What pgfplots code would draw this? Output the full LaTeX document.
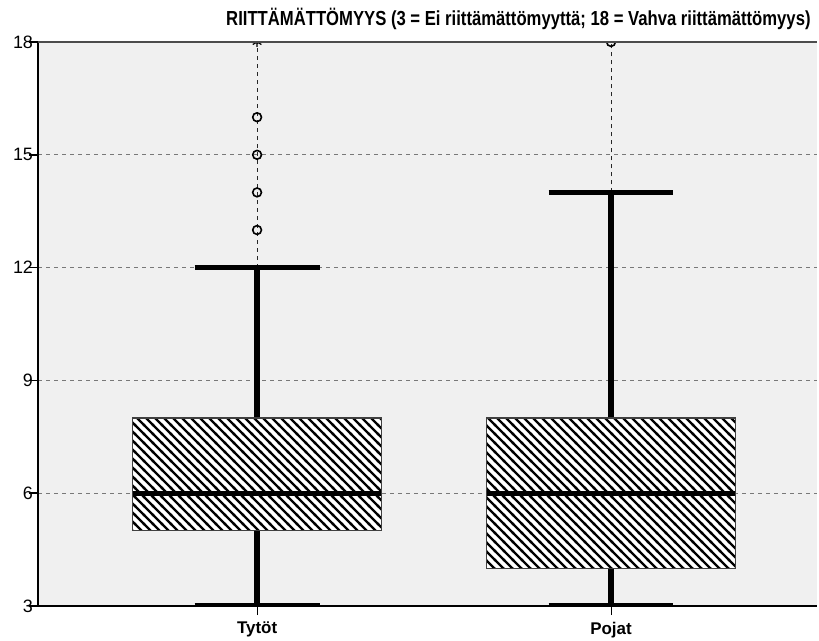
\documentclass[border=0pt]{standalone}
\usepackage{pgfplots}
\pgfplotsset{compat=1.18}
\usepackage{graphicx}
\usetikzlibrary{patterns,calc}
\usepackage{fontspec}
\setmainfont{Liberation Sans}
\definecolor{bgc}{RGB}{240,240,240}
\definecolor{gridc}{RGB}{120,120,120}
\pgfdeclarepatternformonly{hatchnw}{\pgfqpoint{-1bp}{-1bp}}{\pgfqpoint{5.5bp}{5.5bp}}{\pgfqpoint{4.5bp}{4.5bp}}{%
  \pgfsetlinewidth{1.2bp}%
  \pgfpathmoveto{\pgfqpoint{-0.5bp}{5bp}}%
  \pgfpathlineto{\pgfqpoint{5bp}{-0.5bp}}%
  \pgfusepath{stroke}}
\begin{document}
\begin{tikzpicture}
\begin{axis}[
  scale only axis,
  width=389.5bp, height=282bp,
  xmin=0.381, xmax=2.582,
  ymin=3, ymax=18,
  ytick={3,6,9,12,15,18},
  xtick={1,2},
  xticklabels={Tytöt,Pojat},
  xtick pos=bottom, ytick pos=left,
  axis background/.style={fill=bgc},
  axis line style={draw=none},
  tick align=outside,
  major tick length=4.5bp,
  xtick style={black, line width=0.5bp},
  ytick style={black, line width=0.9bp},
  ymajorgrids,
  grid style={gridc, line width=0.6bp, dash pattern=on 2bp off 2bp},
  /pgf/number format/assume math mode=true,
  yticklabel style={font=\fontsize{9}{10}\selectfont, xshift=5.5bp},
  xticklabel style={font=\fontsize{8.5}{9}\selectfont\bfseries},
  clip marker paths=true,
  box/.style={draw=black!75, line width=0.6bp, fill=white, postaction={pattern=hatchnw}},
  thick/.style={black, line width=2.6bp},
]
% dashed lines from upper whisker to top
\addplot[black!85, line width=0.5bp, dash pattern=on 2bp off 2bp] coordinates {(1,12) (1,18)};
\addplot[black!85, line width=0.5bp, dash pattern=on 2bp off 2bp] coordinates {(2,14) (2,18)};
% whiskers
\addplot[thick] coordinates {(1,3) (1,5)};
\addplot[thick] coordinates {(1,8) (1,12)};
\addplot[thick] coordinates {(0.8235,3) (1.1765,3)};
\addplot[thick] coordinates {(0.8235,12) (1.1765,12)};
\addplot[thick] coordinates {(2,3) (2,4)};
\addplot[thick] coordinates {(2,8) (2,14)};
\addplot[thick] coordinates {(1.8235,3) (2.1765,3)};
\addplot[thick] coordinates {(1.8235,14) (2.1765,14)};
% boxes (Q1, Q3)
\addplot[box] coordinates {(0.6485,5) (1.3515,5) (1.3515,8) (0.6485,8)} -- cycle;
\addplot[box] coordinates {(1.6485,4) (2.3515,4) (2.3515,8) (1.6485,8)} -- cycle;
% medians
\addplot[thick] coordinates {(0.6485,6) (1.3515,6)};
\addplot[thick] coordinates {(1.6485,6) (2.3515,6)};
% outliers
\addplot[only marks, mark=o, mark size=2.2bp, mark options={black, line width=0.8bp}] coordinates {(1,13) (1,14) (1,15) (1,16) (2,18)};
% extreme
\addplot[only marks, mark=asterisk, mark size=2.5bp, mark options={black, line width=0.6bp}] coordinates {(1,18)};
\coordinate (ll) at (rel axis cs:0,0);
\coordinate (ur) at (rel axis cs:1,1);
\end{axis}
\draw[black, line width=0.75bp] (ll) -- (ll |- ur);
\draw[black, line width=0.9bp] (ll) -- (ur |- ll);
\draw[black!70, line width=0.75bp] (ll |- ur) -- (ur);
\node[anchor=base east, font=\fontsize{10.2}{12}\selectfont\bfseries, inner sep=0pt] at ($(ur)+(-3bp,8bp)$) {\scalebox{0.82}[1]{RIITTÄMÄTTÖMYYS (3 = Ei riittämättömyyttä; 18 = Vahva riittämättömyys)}};
\pgfresetboundingbox
\path ($(ll)+(-19bp,-17.5bp)$) rectangle ($(ur)+(1bp,21bp)$);
\end{tikzpicture}
\end{document}
